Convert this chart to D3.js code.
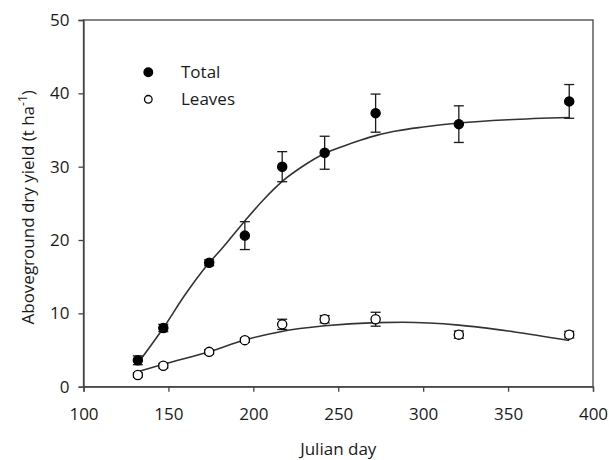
<!DOCTYPE html>
<html>
<head>
<meta charset="utf-8">
<script src="https://cdn.jsdelivr.net/npm/d3@7"></script>
<style>
  html, body { margin: 0; padding: 0; background: #fff; }
  svg { display: block; font-family: "Open Sans", sans-serif; }
</style>
</head>
<body>
<svg id="chart" width="609" height="460"></svg>
<script>
// Sampling dates (Julian day)
const days = [132, 147, 174, 195, 217, 242, 272, 321, 386];

// Total aboveground dry yield (t/ha) and its error
const totalMean = [3.6, 8.0, 16.9, 20.6, 30.0, 31.9, 37.3, 35.8, 38.9];
const totalErr  = [0.6, 0.5, 0.4, 1.9, 2.05, 2.25, 2.6, 2.5, 2.3];

// Leaf dry yield (t/ha) and its error
const leavesMean = [1.6, 2.85, 4.75, 6.35, 8.5, 9.2, 9.2, 7.1, 7.1];
const leavesErr  = [0.3, 0.3, 0.3, 0.3, 0.7, 0.5, 0.95, 0.5, 0.45];

// Fitted growth curves, sampled along the fitted lines
const totalFitDays = [132, 147, 160, 174, 181, 195, 206, 217, 230, 242, 253, 263, 273, 285, 300, 321, 350, 386];
const totalFitVals = [3.2, 8.0, 12.6, 16.9, 18.7, 22.6, 25.5, 28.0, 30.2, 31.8, 32.8, 33.6, 34.3, 34.9, 35.4, 35.95, 36.4, 36.7];
const leavesFitDays = [132, 147, 174, 195, 216, 242, 272, 288, 321, 353, 386];
const leavesFitVals = [2.05, 3.05, 4.77, 6.37, 7.5, 8.3, 8.73, 8.78, 8.4, 7.5, 6.3];

// Axis ticks
const xTicks = [100, 150, 200, 250, 300, 350, 400];
const yTicks = [0, 10, 20, 30, 40, 50];

const legendItems = ["Total", "Leaves"];

const svg = d3.select("#chart");
const margin = { left: 83.5, right: 16, top: 20, bottom: 73.3 };
const W = 609, H = 460;

const x = d3.scaleLinear().domain([100, 400]).range([margin.left, W - margin.right]);
const y = d3.scaleLinear().domain([0, 50]).range([H - margin.bottom, margin.top]);

const ink = "#1a1a1a";
const fontSize = 17;

// Frame
svg.append("rect")
  .attr("x", x(100)).attr("y", y(50))
  .attr("width", x(400) - x(100)).attr("height", y(0) - y(50))
  .attr("fill", "none").attr("stroke", "#444").attr("stroke-width", 1.3);

// Axes
const xAxis = svg.append("g")
  .attr("transform", `translate(0,${y(0)})`)
  .call(d3.axisBottom(x).tickValues(xTicks).tickSize(5).tickPadding(16).tickFormat(d3.format("d")));
const yAxis = svg.append("g")
  .attr("transform", `translate(${x(100)},0)`)
  .call(d3.axisLeft(y).tickValues(yTicks).tickSize(5).tickPadding(9).tickFormat(d3.format("d")));

[xAxis, yAxis].forEach(g => {
  g.select(".domain").attr("stroke", "#444").attr("stroke-width", 1.3);
  g.selectAll(".tick line").attr("stroke", "#444").attr("stroke-width", 1.3);
  g.selectAll(".tick text").attr("fill", ink).attr("font-size", fontSize)
    .attr("font-family", "'Open Sans', sans-serif");
});

// Axis titles
svg.append("text")
  .attr("x", (x(100) + x(400)) / 2).attr("y", 455)
  .attr("text-anchor", "middle").attr("font-size", fontSize).attr("fill", ink)
  .text("Julian day");

const yTitle = svg.append("text")
  .attr("transform", `translate(34,${(y(0) + y(50)) / 2 + 4}) rotate(-90)`)
  .attr("text-anchor", "middle").attr("font-size", fontSize).attr("fill", ink);
yTitle.append("tspan").text("Aboveground dry yield (t ha");
yTitle.append("tspan").attr("dy", -7).attr("font-size", 12).text("-1");
yTitle.append("tspan").attr("dy", 7).text(")");

// Fitted curves
const line = d3.line().x(d => x(d[0])).y(d => y(d[1])).curve(d3.curveMonotoneX);
svg.append("path")
  .datum(d3.zip(totalFitDays, totalFitVals))
  .attr("d", line).attr("fill", "none").attr("stroke", "#333").attr("stroke-width", 1.6);
svg.append("path")
  .datum(d3.zip(leavesFitDays, leavesFitVals))
  .attr("d", line).attr("fill", "none").attr("stroke", "#333").attr("stroke-width", 1.6);

// Error bars + markers
function drawSeries(means, errs, filled) {
  const g = svg.append("g");
  const capW = 5;
  days.forEach((d, i) => {
    const cx = x(d), lo = y(means[i] - errs[i]), hi = y(means[i] + errs[i]);
    g.append("line").attr("x1", cx).attr("x2", cx).attr("y1", lo).attr("y2", hi)
      .attr("stroke", ink).attr("stroke-width", 1.3);
    [lo, hi].forEach(yy => g.append("line")
      .attr("x1", cx - capW).attr("x2", cx + capW).attr("y1", yy).attr("y2", yy)
      .attr("stroke", ink).attr("stroke-width", 1.3));
  });
  g.selectAll("circle").data(days).join("circle")
    .attr("cx", d => x(d)).attr("cy", (d, i) => y(means[i]))
    .attr("r", 4.6)
    .attr("fill", filled ? "#000" : "#fff")
    .attr("stroke", "#000").attr("stroke-width", 1.3);
}
drawSeries(totalMean, totalErr, true);
drawSeries(leavesMean, leavesErr, false);

// Legend
const legend = svg.append("g");
legendItems.forEach((name, i) => {
  const ly = 72.3 + i * 27;
  legend.append("circle").attr("cx", 148.3).attr("cy", ly).attr("r", i === 0 ? 4.3 : 3.8)
    .attr("fill", i === 0 ? "#000" : "#fff").attr("stroke", "#000").attr("stroke-width", 1.3);
  legend.append("text").attr("x", 181).attr("y", ly + 6)
    .attr("font-size", fontSize).attr("fill", ink).text(name);
});
</script>
</body>
</html>
